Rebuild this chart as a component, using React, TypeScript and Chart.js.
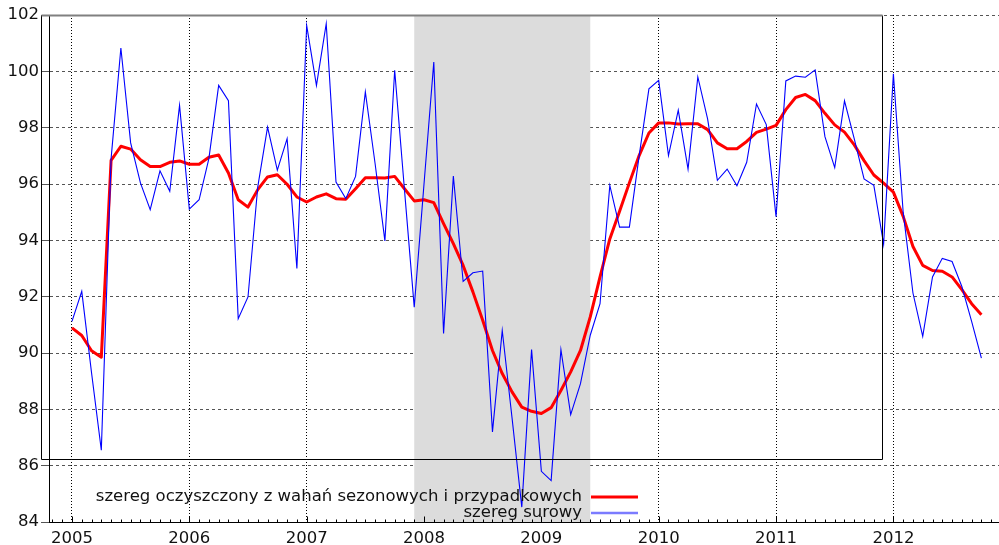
import React, { useEffect, useRef } from 'react';
import { Chart, registerables } from 'chart.js';

Chart.register(...registerables);

// Monthly data, January 2005 .. October 2012
const startYear = 2005;
const yearLabels = ['2005', '2006', '2007', '2008', '2009', '2010', '2011', '2012'];

const rawSeries = [
  91.12, 92.19, 89.3, 86.55, 96.9, 100.83, 97.46, 96.04, 95.09, 96.47, 95.74, 98.79,
  95.11, 95.44, 96.9, 99.5, 98.96, 91.22, 91.99, 95.9, 98.02, 96.49, 97.61, 93.0,
  101.63, 99.5, 101.69, 96.07, 95.48, 96.27, 99.27, 96.72, 93.98, 100.04, 95.8, 91.63,
  96.0, 100.33, 90.69, 96.28, 92.54, 92.85, 92.91, 87.2, 90.8, 87.7, 84.53, 90.12,
  85.8, 85.47, 90.12, 87.81, 88.91, 90.63, 91.75, 95.95, 94.47, 94.47, 97.0, 99.38,
  99.68, 97.01, 98.62, 96.53, 99.8, 98.31, 96.13, 96.53, 95.94, 96.77, 98.84, 98.11,
  94.84, 99.66, 99.83, 99.79, 100.05, 97.68, 96.58, 98.95, 97.6, 96.18, 95.95, 93.87,
  99.91, 95.0, 92.13, 90.59, 92.7, 93.36, 93.25, 92.36, 91.12, 89.82,
];

const adjSeries = [
  90.89, 90.62, 90.08, 89.85, 96.84, 97.34, 97.24, 96.86, 96.62, 96.62, 96.77, 96.82,
  96.7, 96.7, 96.95, 97.03, 96.39, 95.44, 95.18, 95.8, 96.25, 96.33, 95.99, 95.54,
  95.36, 95.54, 95.65, 95.48, 95.46, 95.83, 96.22, 96.22, 96.21, 96.27, 95.83, 95.4,
  95.44, 95.34, 94.59, 93.88, 93.11, 92.17, 91.16, 90.09, 89.27, 88.62, 88.08, 87.93,
  87.85, 88.06, 88.67, 89.33, 90.09, 91.28, 92.7, 94.05, 95.03, 96.04, 97.01, 97.81,
  98.17, 98.17, 98.13, 98.14, 98.14, 97.93, 97.46, 97.25, 97.25, 97.51, 97.83, 97.95,
  98.08, 98.64, 99.07, 99.18, 98.96, 98.51, 98.1, 97.84, 97.39, 96.83, 96.32, 96.03,
  95.71, 94.85, 93.78, 93.11, 92.93, 92.9, 92.7, 92.25, 91.75, 91.36,
];

const legendLabels = [
  'szereg oczyszczony z wahań sezonowych i przypadkowych',
  'szereg surowy',
];

// recession shading: 2007-12 .. 2009-06 (month index from Jan 2005)
const recessionStart = 35;
const recessionEnd = 53;

const yMin = 84;
const yMax = 102;
const yStep = 2;

// frame of the key box that gretl leaves in the plot
const keyBoxRight = 82.8;
const keyBoxBottom = 86.25;

const FONT = '"DejaVu Sans", Verdana, sans-serif';
const FONT_SIZE = 16.5;

const RED = '#ff0000';
const BLUE = '#0000ff';

const decorPlugin = {
  id: 'decor',
  beforeDatasetsDraw(chart: any) {
    const { ctx, chartArea: a, scales } = chart;
    const x = scales.x;
    const x0 = x.getPixelForValue(recessionStart);
    const x1 = x.getPixelForValue(recessionEnd);
    ctx.save();
    ctx.fillStyle = '#dcdcdc';
    ctx.fillRect(x0, a.top, x1 - x0, a.bottom - a.top);
    ctx.restore();
  },
  afterDatasetsDraw(chart: any) {
    const { ctx, chartArea: a, scales } = chart;
    const x = scales.x;
    const y = scales.y;
    ctx.save();
    // bottom axis line and monthly minor ticks
    ctx.strokeStyle = '#000';
    ctx.lineWidth = 1;
    ctx.beginPath();
    const by = Math.round(a.bottom) + 0.5;
    ctx.moveTo(a.left, by);
    ctx.lineTo(a.right, by);
    for (let m = Math.ceil(x.min); m <= x.max; m++) {
      const px = Math.round(x.getPixelForValue(m)) + 0.5;
      const len = m % 12 === 0 ? 6 : 3;
      ctx.moveTo(px, by);
      ctx.lineTo(px, by - len);
    }
    ctx.stroke();

    // key box frame
    const left = Math.round(a.left - 8) + 0.5;
    const right = Math.round(x.getPixelForValue(keyBoxRight)) + 0.5;
    const top = Math.round(a.top) + 0.5;
    const bottom = Math.round(y.getPixelForValue(keyBoxBottom)) + 0.5;
    ctx.beginPath();
    ctx.moveTo(left, top);
    ctx.lineTo(left, bottom);
    ctx.lineTo(right, bottom);
    ctx.lineTo(right, top);
    ctx.stroke();
    ctx.strokeStyle = '#808080';
    ctx.lineWidth = 2;
    ctx.beginPath();
    ctx.moveTo(left, top);
    ctx.lineTo(right, top);
    ctx.stroke();

    // legend
    ctx.font = `${FONT_SIZE}px ${FONT}`;
    ctx.fillStyle = '#111';
    ctx.textAlign = 'right';
    ctx.textBaseline = 'middle';
    const textRight = 582;
    const sx0 = 591;
    const sx1 = 638;
    const rows = [497, 513];
    const colors = [RED, '#7b7bff'];
    const widths = [3, 2.5];
    legendLabels.forEach((lbl, i) => {
      ctx.fillText(lbl, textRight, rows[i]);
      ctx.strokeStyle = colors[i];
      ctx.lineWidth = widths[i];
      ctx.beginPath();
      ctx.moveTo(sx0, rows[i]);
      ctx.lineTo(sx1, rows[i]);
      ctx.stroke();
    });
    ctx.restore();
  },
};

export default function App() {
  const canvasRef = useRef<HTMLCanvasElement | null>(null);

  useEffect(() => {
    const canvas = canvasRef.current;
    if (!canvas) return;
    const yearTicks = yearLabels.map((_, i) => i * 12);
    const chart = new Chart(canvas, {
      type: 'line',
      data: {
        datasets: [
          {
            label: legendLabels[1],
            data: rawSeries.map((v, i) => ({ x: i, y: v })),
            borderColor: BLUE,
            borderWidth: 1.1,
            pointRadius: 0,
            tension: 0,
            fill: false,
            order: 0,
          },
          {
            label: legendLabels[0],
            data: adjSeries.map((v, i) => ({ x: i, y: v })),
            borderColor: RED,
            borderWidth: 3,
            pointRadius: 0,
            tension: 0,
            fill: false,
            order: 1,
            borderJoinStyle: 'round',
          },
        ],
      },
      options: {
        responsive: false,
        animation: false,
        layout: { padding: { top: 15, right: 0, bottom: 0, left: 0 } },
        plugins: {
          legend: { display: false },
          tooltip: { enabled: false },
        },
        scales: {
          x: {
            type: 'linear',
            min: -2.35,
            max: 94.8,
            afterBuildTicks: (scale: any) => {
              scale.ticks = yearTicks.map((v) => ({ value: v }));
            },
            afterFit: (scale: any) => {
              scale.height = 23;
            },
            ticks: {
              includeBounds: false,
              autoSkip: false,
              maxRotation: 0,
              padding: 7,
              color: '#111',
              font: { family: FONT, size: FONT_SIZE },
              callback: (v: any) => String(startYear + Math.round(Number(v) / 12)),
            },
            grid: {
              color: '#000',
              lineWidth: 1,
              drawTicks: false,
            },
            border: { display: false, dash: [1, 2] },
          },
          y: {
            min: yMin,
            max: yMax,
            afterFit: (scale: any) => {
              scale.width = 49;
            },
            ticks: {
              stepSize: yStep,
              padding: 2,
              color: '#111',
              font: { family: FONT, size: FONT_SIZE },
            },
            grid: {
              color: '#555',
              lineWidth: 1,
              tickLength: 8,
            },
            border: { display: true, color: '#000', width: 1, dash: [3, 3] },
          },
        },
      },
      plugins: [decorPlugin],
    });
    return () => chart.destroy();
  }, []);

  return (
    <div style={{ position: 'fixed', left: 0, top: 0, width: 999, height: 545, background: '#fff' }}>
      <canvas ref={canvasRef} width={999} height={545} style={{ display: 'block' }} />
    </div>
  );
}
